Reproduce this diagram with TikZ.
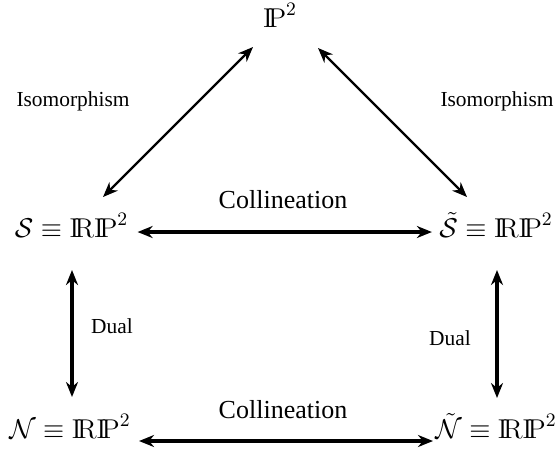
\RequirePackage{fix-cm}
\documentclass[tikz,border=0pt]{standalone}
\usepackage[no-math]{fontspec}
\newfontfamily\labelfont{Liberation Serif}
\usetikzlibrary{arrows.meta,calc}
\newcommand{\RR}{\mathrm{I\!R}}
\newcommand{\PP}{\mathrm{I\!P}}
\begin{document}
\begin{tikzpicture}[x=0.5pt,y=-0.5pt]
\useasboundingbox (0,0) rectangle (560,462);
\tikzset{
  obj/.style={inner sep=0pt, anchor=base, font=\fontsize{13.6}{16}\selectfont},
  lbl/.style={inner sep=0pt, anchor=base, font=\labelfont\fontsize{10.7}{12}\selectfont},
  clbl/.style={inner sep=0pt, anchor=base, font=\labelfont\fontsize{13}{15}\selectfont},
  dbl/.style={{Stealth[length=7.5pt,width=6pt]}-{Stealth[length=7.5pt,width=6pt]}},
  thinarr/.style={dbl, line width=1.2pt},
  thickarr/.style={dbl, line width=1.7pt},
}
% spaces
\node[obj] (P)  at (280,27)  {$\PP^2$};
\node[obj] (S)  at (71.5,237) {$\mathcal{S}\equiv\RR\PP^2$};
\node[obj] (St) at (496,237) {$\tilde{\mathcal{S}}\equiv\RR\PP^2$};
\node[obj] (N)  at (70,438)  {$\mathcal{N}\equiv\RR\PP^2$};
\node[obj] (Nt) at (496,438) {$\tilde{\mathcal{N}}\equiv\RR\PP^2$};
% labels
\node[lbl]  (iso1) at (73,106)  {Isomorphism};
\node[lbl]  (iso2) at (497,106) {Isomorphism};
\node[clbl] (col1) at (283,208) {Collineation};
\node[clbl] (col2) at (283,418) {Collineation};
\node[lbl]  (du1)  at (112,333) {Dual};
\node[lbl]  (du2)  at (450,345) {Dual};
% maps
\draw[thinarr] ($(S.base)+(31.5,-40)$) -- ($(P.base)+(-27,20)$);
\draw[thinarr] ($(St.base)+(-29,-40)$) -- ($(P.base)+(38,21)$);
\draw[thickarr] ($(S.base east)+(9,-5)$) -- ($(St.base west)+(-7,-5)$);
\draw[thickarr] ($(N.base east)+(8,3)$) -- ($(Nt.base west)+(-2,3)$);
\draw[thickarr] ($(S.base)+(0.5,33)$) -- ($(N.base)+(2,-41)$);
\draw[thickarr] ($(St.base)+(1,33)$) -- ($(Nt.base)+(1,-40)$);
\end{tikzpicture}
\end{document}
